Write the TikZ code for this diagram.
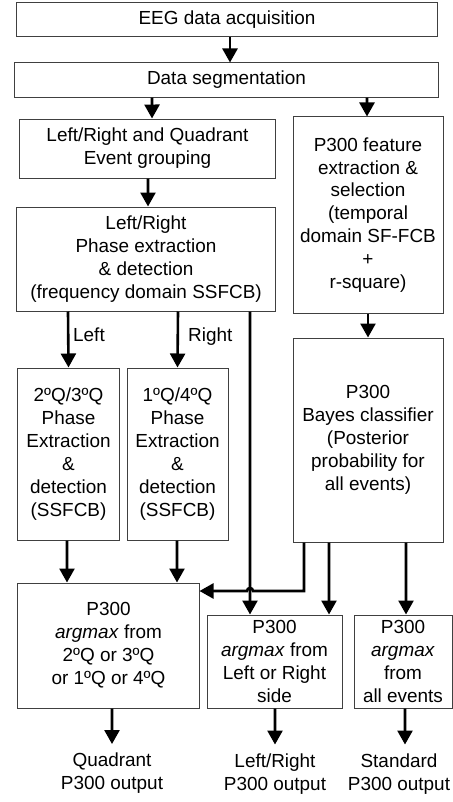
\documentclass[tikz,border=0pt]{standalone}
\usepackage{fontspec}
\setmainfont{Liberation Sans}
\usetikzlibrary{arrows.meta}
\begin{document}
\begin{tikzpicture}[x=1bp,y=-1bp,
  font=\fontsize{19}{23}\selectfont,
  box/.style={draw=black!75,line width=1bp,align=center,inner sep=0pt},
  lbl/.style={inner sep=0pt,align=center},
  flow/.style={line width=2.6bp,-{Triangle[length=14bp,width=15bp]}},
  wire/.style={line width=2.6bp}]
\useasboundingbox (0,0) rectangle (453,802);

% processing blocks
\node[box,minimum width=420bp,minimum height=34bp] (acq) at (227,20) {EEG data acquisition};
\node[box,minimum width=423bp,minimum height=34bp] (seg) at (226.5,80) {Data segmentation};
\node[box,minimum width=255bp,minimum height=59bp] (grp) at (147.5,148.5) {Left/Right and Quadrant\\Event grouping};
\node[box,minimum width=150bp,minimum height=196bp] (feat) at (368,215) {P300 feature\\extraction \&\\selection\\(temporal\\domain SF-FCB\\+\\r-square)};
\node[box,minimum width=258bp,minimum height=104bp] (phase) at (146,259) {Left/Right\\Phase extraction\\\& detection\\(frequency domain SSFCB)};
\node[box,minimum width=101bp,minimum height=172bp] (q23) at (68.5,454) {2ºQ/3ºQ\\Phase\\Extraction\\\&\\detection\\(SSFCB)};
\node[box,minimum width=101bp,minimum height=172bp] (q14) at (177.5,454) {1ºQ/4ºQ\\Phase\\Extraction\\\&\\detection\\(SSFCB)};
\node[box,minimum width=150bp,minimum height=204bp] (bayes) at (368,440) {P300\\Bayes classifier\\(Posterior\\probability for\\all events)};
\node[box,minimum width=181bp,minimum height=125bp] (quad) at (108.5,645.5) {P300\\\textit{argmax} from\\2ºQ or 3ºQ\\or 1ºQ or 4ºQ};
\node[box,minimum width=135bp,minimum height=93bp] (lr) at (274.5,661.5) {P300\\\textit{argmax} from\\Left or Right\\side};
\node[box,minimum width=98bp,minimum height=93bp] (std) at (403,661.5) {P300\\\textit{argmax}\\from\\all events};

% outputs
\node[lbl] (quadout) at (112,773.5) {Quadrant\\P300 output};
\node[lbl] (lrout) at (275,774) {Left/Right\\P300 output};
\node[lbl] (stdout) at (399,774) {Standard\\P300 output};

% branch labels
\node[lbl,anchor=west] (leftlbl) at (73,335) {Left};
\node[lbl,anchor=west] (rightlbl) at (188,337) {Right};

% connectors
\draw[flow] ([xshift=3bp]acq.south) -- ([xshift=3.5bp]seg.north);
\draw[flow] ([xshift=-74.5bp]seg.south) -- ([xshift=4.5bp]grp.north);
\draw[flow] ([xshift=140.5bp]seg.south) -- ([xshift=-1bp]feat.north);
\draw[flow] ([xshift=0.5bp]grp.south) -- ([xshift=2bp]phase.north);
\draw[flow] ([xshift=-78bp]phase.south) -- (q23.north);
\draw[flow] ([xshift=32bp]phase.south) -- (q14.north);
\draw[flow] ([xshift=104bp]phase.south) -- ([xshift=-24.5bp]lr.north);
\draw[flow] (feat.south) -- (bayes.north);
\draw[flow] ([xshift=-1.5bp]q23.south) -- ([xshift=-41.5bp]quad.north);
\draw[flow] ([xshift=-0.5bp]q14.south) -- ([xshift=68.5bp]quad.north);
\draw[flow] ([xshift=-64bp]bayes.south) |- (253,591)
  arc[start angle=0,end angle=180,radius=3bp] -- (quad.east |- 0,591);
\draw[flow] ([xshift=-39bp]bayes.south) -- ([xshift=54.5bp]lr.north);
\draw[flow] ([xshift=38bp]bayes.south) -- ([xshift=3bp]std.north);
\draw[flow,shorten >=9bp] ([xshift=3.5bp]quad.south) -- (quadout.north);
\draw[flow,shorten >=9bp] ([xshift=0.5bp]lr.south) -- (lrout.north);
\draw[flow,shorten >=9bp] ([xshift=2bp]std.south) -- ([xshift=6bp]stdout.north);
\end{tikzpicture}
\end{document}
